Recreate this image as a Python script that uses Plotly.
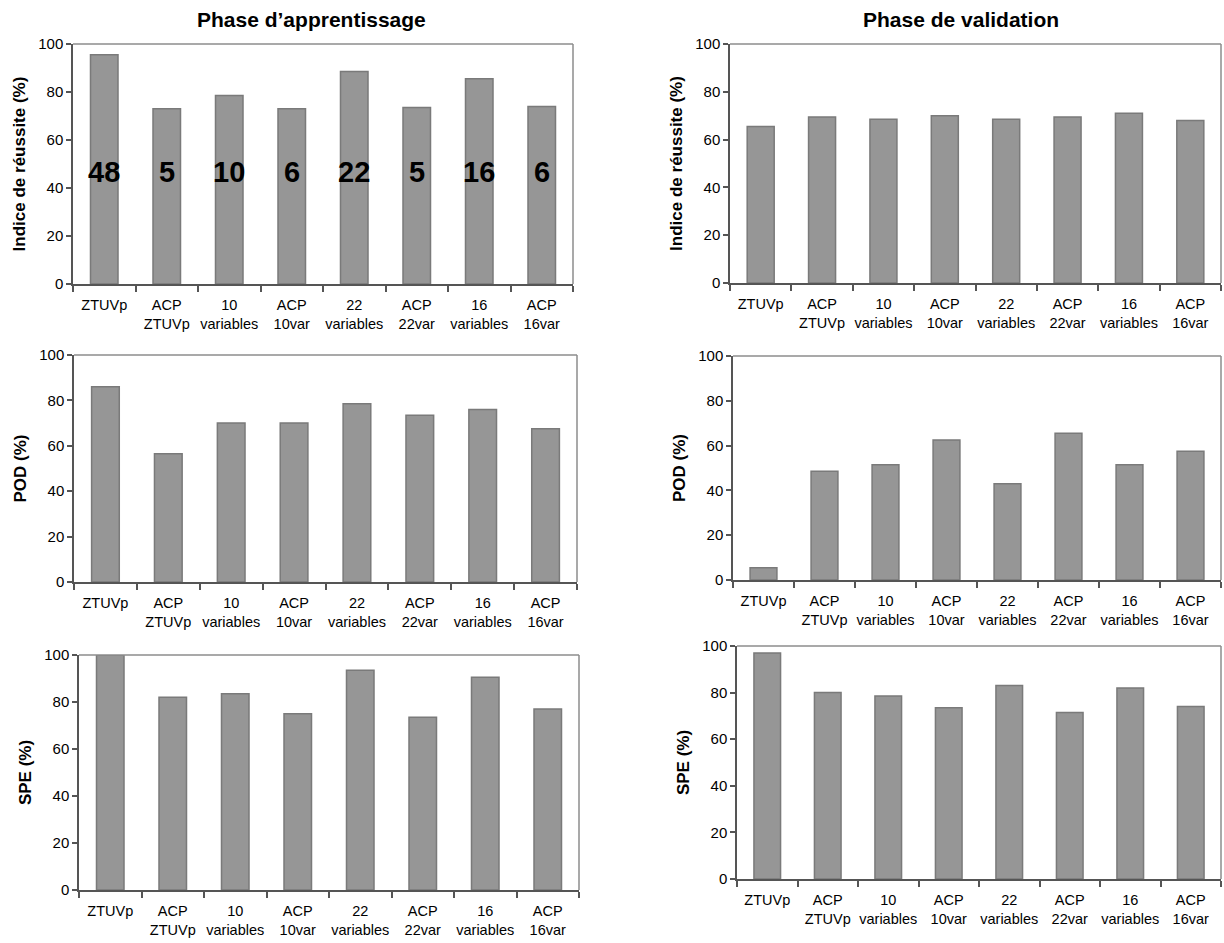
import plotly.graph_objects as go

categories = ["ZTUVp", "ACP<br>ZTUVp", "10<br>variables", "ACP<br>10var",
              "22<br>variables", "ACP<br>22var", "16<br>variables", "ACP<br>16var"]

ir_app = [95.5, 73, 78.5, 73, 88.5, 73.5, 85.5, 74]
ir_val = [65.5, 69.5, 68.5, 70, 68.5, 69.5, 71, 68]
pod_app = [86, 56.5, 70, 70, 78.5, 73.5, 76, 67.5]
pod_val = [5.5, 48.5, 51.5, 62.5, 43, 65.5, 51.5, 57.5]
spe_app = [100, 82, 83.5, 75, 93.5, 73.5, 90.5, 77]
spe_val = [97, 80, 78.5, 73.5, 83, 71.5, 82, 74]

n_vars = ["48", "5", "10", "6", "22", "5", "16", "6"]
n_vars_y = 46.5

titles = ["Phase d’apprentissage", "Phase de validation"]
ytitles = ["Indice de réussite (%)", "POD (%)", "SPE (%)"]

W, H = 1224, 943
# pixel boxes: (x0, x1, ytop, ybottom)
boxes = [
    (73, 573, 44, 284),
    (730, 1221, 44, 283),
    (74, 577, 355, 582),
    (733, 1221, 356, 580),
    (79, 579, 655, 890),
    (737, 1221, 646, 879),
]
title_centers = [311, 961]
series = [ir_app, ir_val, pod_app, pod_val, spe_app, spe_val]

FONT = "Liberation Sans, Arial, sans-serif"
fig = go.Figure()
layout = dict(width=W, height=H, margin=dict(l=0, r=0, t=0, b=0, autoexpand=False),
              paper_bgcolor="white", plot_bgcolor="white", showlegend=False,
              font=dict(family=FONT, color="black"))
shapes = []
annotations = []

for i, (vals, box) in enumerate(zip(series, boxes)):
    k = i + 1
    xa = "x" if k == 1 else f"x{k}"
    ya = "y" if k == 1 else f"y{k}"
    x0, x1, yt, yb = box
    fig.add_trace(go.Bar(x=categories, y=vals, xaxis=xa, yaxis=ya,
                         marker=dict(color="#969696", line=dict(color="#7a7a7a", width=1.5)),
                         width=0.44, hoverinfo="x+y"))
    layout["xaxis" if k == 1 else f"xaxis{k}"] = dict(
        domain=[x0 / W, x1 / W], anchor=ya, type="category", automargin=False,
        showline=True, linecolor="#555555", linewidth=1.5,
        ticks="outside", ticklen=6, tickcolor="#555555", tickwidth=1.5,
        tickson="boundaries", showgrid=False, zeroline=False, ticklabelstandoff=7,
        tickfont=dict(size=14.5, family=FONT, color="black"), tickangle=0)
    layout["yaxis" if k == 1 else f"yaxis{k}"] = dict(
        domain=[1 - yb / H, 1 - yt / H], anchor=xa, range=[0, 100], automargin=False,
        tickvals=[0, 20, 40, 60, 80, 100],
        showline=True, linecolor="#555555", linewidth=1.5,
        ticks="outside", ticklen=5, tickcolor="#555555", tickwidth=1.5,
        showgrid=False, zeroline=False,
        tickfont=dict(size=15, family=FONT, color="black"),
        title=dict(text=f"<b>{ytitles[i // 2]}</b>", font=dict(size=17, family=FONT), standoff=8))
    # top and right frame lines
    shapes.append(dict(type="line", xref=f"{xa} domain", yref=f"{ya} domain",
                       x0=0, x1=1, y0=1, y1=1, line=dict(color="#8c8c8c", width=1.5)))
    shapes.append(dict(type="line", xref=f"{xa} domain", yref=f"{ya} domain",
                       x0=1, x1=1, y0=0, y1=1, line=dict(color="#8c8c8c", width=1.5)))
    if k == 1:
        for c, t in zip(categories, n_vars):
            annotations.append(dict(x=c, y=n_vars_y, xref=xa, yref=ya, text=f"<b>{t}</b>",
                                    showarrow=False, font=dict(size=29, family=FONT, color="black")))

for j, t in enumerate(titles):
    annotations.append(dict(x=title_centers[j] / W, y=1 - 20 / H, xref="paper", yref="paper",
                            xanchor="center", yanchor="middle",
                            text=f"<b>{t}</b>", showarrow=False,
                            font=dict(size=21, family=FONT, color="black")))

layout["shapes"] = shapes
layout["annotations"] = annotations
fig.update_layout(**layout)
fig.write_html("out.html", config={"displayModeBar": False},
               post_script="document.body.style.margin='0';document.body.style.overflow='hidden';")
